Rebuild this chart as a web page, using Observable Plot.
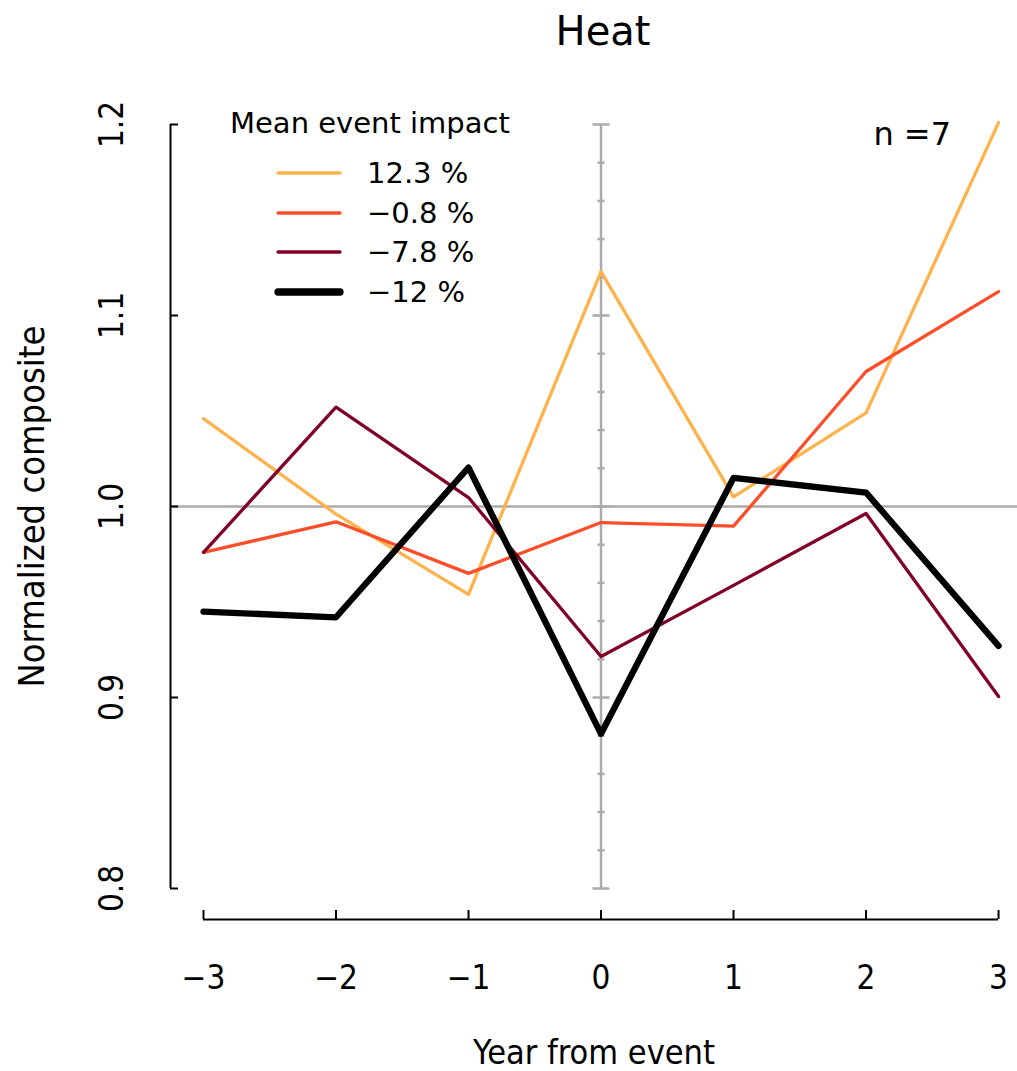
<!DOCTYPE html>
<html>
<head>
<meta charset="utf-8">
<script src="https://cdn.jsdelivr.net/npm/d3@7"></script>
<script src="https://cdn.jsdelivr.net/npm/@observablehq/plot@0.6"></script>
<style>
  body { margin: 0; background: #fff; }
  #wrap { position: relative; width: 1017px; height: 1071px; overflow: hidden;
          font-family: "DejaVu Sans", sans-serif; color: #000; }
  #title { position: absolute; left: 403px; top: 11px; width: 400px; text-align: center; font-size: 40px; line-height: 40px; }
  #nlabel { position: absolute; right: 66px; top: 118px; font-size: 32px; line-height: 32px; white-space: pre; }
  #chart { position: absolute; left: 0; top: 70px; }
  .leg { position: absolute; font-size: 29px; line-height: 29px; white-space: pre; }
  .sw { position: absolute; }
</style>
</head>
<body>
<div id="wrap">
  <div id="title">Heat</div>
  <div id="chart"></div>
  <div id="legend"></div>
  <div id="nlabel">n =7</div>
</div>
<script>
// ---- data ----
const years = [-3, -2, -1, 0, 1, 2, 3];
const impact123 = [1.046, 0.996, 0.954, 1.123, 1.005, 1.049, 1.201];
const impactM08 = [0.976, 0.992, 0.965, 0.9916, 0.9897, 1.0707, 1.1125];
const impactM78 = [0.976, 1.052, 1.0047, 0.9215, 0.9587, 0.9963, 0.9005];
const impactM12 = [0.945, 0.942, 1.0204, 0.881, 1.015, 1.0073, 0.927];
const seriesLabels = ["12.3 %", "\u22120.8 %", "\u22127.8 %", "\u221212 %"];
const seriesColors = ["#feb24c", "#fc4e2a", "#800026", "#000000"];
const seriesWidths = [3.3, 3.3, 3.3, 6.3];
const xTicks = [-3, -2, -1, 0, 1, 2, 3];
const yTicks = [0.8, 0.9, 1.0, 1.1, 1.2];
const eventYear = 0;
const baseline = 1.0;
const legendTitle = "Mean event impact";

const seriesValues = [impact123, impactM08, impactM78, impactM12];
const series = seriesValues.map((vals, i) => years.map((yr, j) => ({year: yr, value: vals[j], label: seriesLabels[i]})));

const minorTicks = d3.range(0, 21).map(i => +(0.8 + i * 0.02).toFixed(2)).filter(v => !yTicks.some(t => Math.abs(t - v) < 1e-9));

const hbar = { draw(ctx, size) { const r = Math.sqrt(size / Math.PI); ctx.moveTo(-r, 0); ctx.lineTo(r, 0); } };

const fmtX = d => d < 0 ? "\u2212" + (-d) : String(d);
const fmtY = d3.format(".1f");
const xMin = -3.249, xMax = 3.143;
const gray = "#ababab";
const FONT = '"DejaVu Sans Condensed", "DejaVu Sans", sans-serif';

const marks = [
  // reference lines
  Plot.ruleY([baseline], {stroke: gray, strokeWidth: 2.5}),
  Plot.ruleX([eventYear], {y1: yTicks[0], y2: yTicks[yTicks.length - 1], stroke: gray, strokeWidth: 2.5}),
  Plot.dot(minorTicks, {x: () => eventYear, y: d => d, symbol: hbar, r: 3.5, stroke: gray, strokeWidth: 2.5, fill: "none"}),
  Plot.dot(yTicks, {x: () => eventYear, y: d => d, symbol: hbar, r: 8.5, stroke: gray, strokeWidth: 2.5, fill: "none"}),
  // y spine & ticks
  Plot.ruleX([xMin], {y1: yTicks[0], y2: yTicks[yTicks.length - 1], stroke: "#000", strokeWidth: 2}),
  Plot.axisY({ticks: yTicks, tickSize: 8, dx: 8, tickFormat: () => "", strokeWidth: 2, label: null}),
  Plot.axisY({ticks: yTicks, tickSize: 0, tickPadding: 58, rotate: -90, textAnchor: "middle",
              tickFormat: fmtY, fontSize: 33, label: null}),
  Plot.axisY({ticks: [], tickSize: 0, fontSize: 36, label: "Normalized composite", labelAnchor: "center", labelOffset: 152, labelArrow: "none"}),
  // x spine & ticks
  Plot.ruleY([yTicks[0]], {x1: xTicks[0], x2: xTicks[xTicks.length - 1], dy: 31, stroke: "#000", strokeWidth: 2}),
  Plot.axisX({ticks: xTicks, tickSize: 9, dy: 22, tickFormat: () => "", strokeWidth: 2, label: null}),
  Plot.axisX({ticks: xTicks, tickSize: 0, tickPadding: 77, tickFormat: fmtX, fontSize: 33, label: null}),
  Plot.axisX({ticks: [], tickSize: 0, fontSize: 34, label: "Year from event", labelAnchor: "center", labelOffset: 175, labelArrow: "none"}),
];
series.forEach((s, i) => {
  marks.push(Plot.line(s, {x: "year", y: "value", stroke: seriesColors[i], strokeWidth: seriesWidths[i]}));
});

const chart = Plot.plot({
  width: 1017,
  height: 1001,
  marginLeft: 170,
  marginRight: 0,
  marginTop: 54,
  marginBottom: 183,
  x: {domain: [xMin, xMax]},
  y: {domain: [yTicks[0], yTicks[yTicks.length - 1]]},
  style: {fontFamily: FONT, fontStretch: "condensed", color: "#000", background: "transparent", overflow: "visible"},
  marks
});
document.getElementById("chart").appendChild(chart);

// legend (overlay)
const legend = document.getElementById("legend");
const head = document.createElement("div");
head.className = "leg";
head.style.left = "230px";
head.style.top = (133 - 24.5) + "px";
head.textContent = legendTitle;
legend.appendChild(head);
const rowY = [173, 213, 252, 292];
seriesLabels.forEach((lab, i) => {
  const ns = "http://www.w3.org/2000/svg";
  const svg = document.createElementNS(ns, "svg");
  svg.setAttribute("class", "sw");
  svg.setAttribute("width", 80); svg.setAttribute("height", 20);
  svg.style.left = "270px"; svg.style.top = (rowY[i] - 10) + "px";
  const ln = document.createElementNS(ns, "line");
  ln.setAttribute("x1", 8); ln.setAttribute("x2", 70); ln.setAttribute("y1", 10); ln.setAttribute("y2", 10);
  ln.setAttribute("stroke", seriesColors[i]); ln.setAttribute("stroke-width", seriesWidths[i] + (i === 3 ? 1 : 0));
  ln.setAttribute("stroke-linecap", "round");
  svg.appendChild(ln);
  legend.appendChild(svg);
  const t = document.createElement("div");
  t.className = "leg";
  t.style.left = "367px";
  t.style.top = (rowY[i] + 10.5 - 24.5) + "px";
  t.textContent = lab;
  legend.appendChild(t);
});
</script>
</body>
</html>
